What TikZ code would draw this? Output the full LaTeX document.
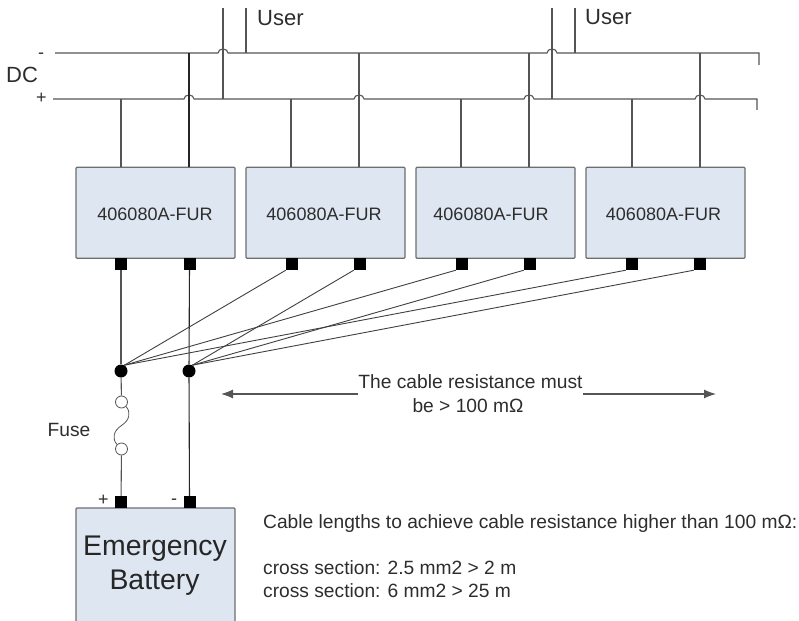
\documentclass[tikz,border=0pt]{standalone}
\usepackage{fontspec}
\setmainfont{Liberation Sans}
\usetikzlibrary{arrows.meta}
\definecolor{boxfill}{RGB}{222,230,241}
\definecolor{boxline}{RGB}{110,110,110}
\definecolor{wire}{RGB}{85,85,85}
\definecolor{txt}{RGB}{45,45,45}
\tikzset{
  x=1pt,y=-1pt,
  wireline/.style={draw=wire,line width=1.1pt},
  darkwire/.style={draw=black!85,line width=1.1pt},
  fanline/.style={draw=black!75,line width=0.9pt},
  unitbox/.style={draw=boxline,fill=boxfill,line width=1.2pt,rounded corners=1pt,minimum width=159pt,minimum height=91pt,inner sep=0pt},
  terminal/.style={fill=black,minimum size=12pt,inner sep=0pt},
  junction/.style={circle,fill=black,minimum size=13pt,inner sep=0pt},
  fuseend/.style={circle,draw=wire,fill=white,line width=0.8pt,minimum size=12pt,inner sep=0pt},
  label/.style={inner sep=0pt,text=txt,anchor=base west},
  midlabel/.style={inner sep=0pt,text=txt,anchor=base},
  small/.style={font=\fontsize{18}{22}\selectfont},
  note/.style={font=\fontsize{19.2}{23}\selectfont},
  big/.style={font=\fontsize{22}{26}\selectfont},
  huge/.style={font=\fontsize{28.4}{34}\selectfont,text=black!85},
}
\begin{document}
\begin{tikzpicture}
\useasboundingbox (0,0) rectangle (799,620);
% units
\foreach \n/\x/\t in {1/155.5/155,2/325.5/324,3/495.5/491,4/665.5/663.5}{
  \node[unitbox] (u\n) at (\x,212.8) {};
  \node[midlabel,small] (ut\n) at (\t,220) {406080A-FUR};
}
\foreach \n/\xa/\xb in {1/121/189.5,2/292/360,3/462/530,4/632/700}{
  \node[terminal] (tp\n) at (\xa,264) {};
  \node[terminal] (tm\n) at (\xb,264) {};
}
% bus ends
\coordinate (ms) at (55,53);
\coordinate (me) at (759,53);
\coordinate (mt) at (759,65);
\coordinate (ps) at (53,99);
\coordinate (pe) at (757,99);
\coordinate (pt) at (757,110);
\coordinate (ua) at (223,8);
\coordinate (ub) at (246,8);
\coordinate (uc) at (552,8);
\coordinate (ud) at (575,8);
% buses with hops
\draw[wireline] (ms) -- (218,53) arc[start angle=180,end angle=0,x radius=5pt,y radius=4pt] -- (547,53) arc[start angle=180,end angle=0,x radius=5pt,y radius=4pt] -- (me) -- (mt);
\draw[wireline] (ps) -- (184,99) arc[start angle=180,end angle=0,x radius=5pt,y radius=4pt]
  -- (354,99) arc[start angle=180,end angle=0,x radius=5pt,y radius=4pt]
  -- (524,99) arc[start angle=180,end angle=0,x radius=5pt,y radius=4pt]
  -- (695,99) arc[start angle=180,end angle=0,x radius=5pt,y radius=4pt] -- (pe) -- (pt);
% user lines
\draw[wireline] (ua) -- (223,99);
\draw[wireline] (ub) -- (246,53);
\draw[wireline] (uc) -- (552,99);
\draw[wireline] (ud) -- (575,53);
% unit feeds
\foreach \x in {121,291,461,632}{
  \draw[wireline] (\x,99) -- (\x,167);
}
\draw[darkwire] (189,53) -- (189,167);
\foreach \x in {359,529,700}{
  \draw[wireline] (\x,53) -- (\x,167);
}
% junctions
\node[junction] (ja) at (121,371) {};
\node[junction] (jb) at (189,371) {};
\draw[wireline] (tp1) -- (ja);
\draw[darkwire] (tm1) -- (jb);
\foreach \n in {2,3,4}{
  \draw[fanline] (ja.60) -- (tp\n.south west);
  \draw[fanline] (jb.60) -- (tm\n.south west);
}
% fuse
\node[fuseend] (fa) at (121.5,402) {};
\node[fuseend] (fb) at (121.5,449) {};
\draw[wireline] (ja) -- (fa);
\draw[draw=wire,line width=0.8pt] (fa.south east) .. controls (131,412) and (130,420) .. (121.5,425.5) .. controls (113,431) and (112,439) .. (fb.north west);
% battery
\node[unitbox,minimum height=118pt] (bat) at (155.5,567) {};
\node[midlabel,huge] (bt1) at (155,555) {Emergency};
\node[midlabel,huge] (bt2) at (154.5,589) {Battery};
\node[terminal] (bp) at (121,502) {};
\node[terminal] (bm) at (189.5,502) {};
\draw[wireline] (fb) -- (bp);
\draw[darkwire] (jb) -- (bm);
% labels
\node[label,big] (l1) at (257,26) {User};
\node[label,big] (l2) at (585,25) {User};
\node[label,big] (l3) at (6,83) {DC};
\node[label,small] (l4) at (38,59) {-};
\node[label,small] (l5) at (36,104) {+};
\node[label,note] (l6) at (47.5,436) {Fuse};
\node[label,small] (l7) at (98,505) {+};
\node[label,small] (l8) at (171,504) {-};
\node[midlabel,note] (n1) at (470.5,388) {The cable resistance must};
\node[midlabel,note] (n2) at (468,412) {be > 100 mΩ};
\coordinate (al) at (221,394);
\coordinate (ar) at (716,394);
\draw[wireline,-{Latex[length=12pt,width=9pt]}] (n1.south west |- al) -- (al);
\draw[wireline,-{Latex[length=12pt,width=9pt]}] (n1.south east |- ar) -- (ar);
\node[label,note] (c1) at (263,528) {Cable lengths to achieve cable resistance higher than 100 mΩ:};
\node[label,note] (c2) at (263,574) {cross section: 2.5 mm2 > 2 m};
\node[label,note] (c3) at (263,597) {cross section: 6 mm2 > 25 m};
\end{tikzpicture}
\end{document}
